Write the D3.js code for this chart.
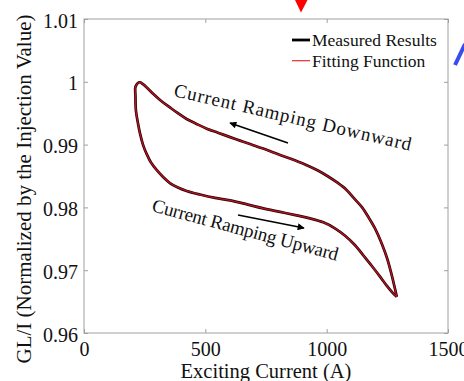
<!DOCTYPE html>
<html>
<head>
<meta charset="utf-8">
<script src="https://cdn.jsdelivr.net/npm/d3@7"></script>
<style>
  body { margin: 0; background: #fff; }
  svg { display: block; font-family: "Liberation Serif", "Times New Roman", serif; }
</style>
</head>
<body>
<svg id="chart" width="464" height="381"></svg>
<script>
// current ramping upward (lower branch), A and GL/I
const upCurrent = [224, 212, 212, 214, 222, 231, 243, 258, 276, 300, 326, 354, 387, 423, 478, 540, 602, 672, 739, 808, 876, 931, 986, 1034, 1076, 1117, 1154, 1187, 1220, 1249, 1273, 1289];
const upValue = [0.9999, 0.99921, 0.99778, 0.9954, 0.99349, 0.99175, 0.99, 0.98852, 0.98714, 0.98592, 0.98484, 0.98388, 0.98318, 0.98262, 0.98205, 0.98151, 0.98111, 0.98048, 0.97984, 0.97929, 0.97873, 0.97825, 0.97762, 0.97667, 0.97548, 0.97397, 0.97222, 0.97063, 0.96897, 0.96746, 0.96635, 0.96576];

// current ramping downward (upper branch)
const downCurrent = [1289, 1278, 1265, 1249, 1228, 1203, 1175, 1146, 1113, 1080, 1043, 1006, 964, 911, 849, 787, 738, 684, 643, 602, 552, 506, 462, 423, 387, 354, 317, 286, 260, 243, 231, 224];
const downValue = [0.96576, 0.96762, 0.96968, 0.9719, 0.97413, 0.97635, 0.97825, 0.98, 0.98143, 0.98286, 0.98397, 0.98492, 0.98587, 0.98683, 0.98778, 0.98865, 0.98937, 0.99008, 0.99063, 0.99119, 0.9919, 0.99254, 0.99333, 0.99408, 0.995, 0.99592, 0.99698, 0.99805, 0.99905, 0.99963, 0.99992, 0.9999];

const xTicks = [0, 500, 1000, 1500];
const yTicks = [0.96, 0.97, 0.98, 0.99, 1, 1.01];
const legendNames = ['Measured Results', 'Fitting Function'];

const svg = d3.select('#chart');
const plotLeft = 84, plotRight = 448, plotTop = 19, plotBottom = 333;

const x = d3.scaleLinear().domain([0, 1500]).range([plotLeft, plotRight]);
const y = d3.scaleLinear().domain([0.96, 1.01]).range([plotBottom, plotTop]);

const axisColor = '#a0a0a0';

// box
svg.append('rect')
  .attr('x', plotLeft).attr('y', plotTop)
  .attr('width', plotRight - plotLeft).attr('height', plotBottom - plotTop)
  .attr('fill', 'none').attr('stroke', axisColor).attr('stroke-width', 1);

const styleAxis = (g) => {
  g.select('.domain').remove();
  g.selectAll('line').attr('stroke', axisColor);
  g.selectAll('text').attr('fill', '#111').style('font-size', '20px')
    .style('font-family', '"Liberation Serif", serif');
};

svg.append('g').attr('transform', `translate(0,${plotBottom})`)
  .call(d3.axisBottom(x).tickValues(xTicks).tickFormat(d3.format('d')).tickSizeInner(-4).tickSizeOuter(0).tickPadding(9))
  .call(styleAxis);
svg.append('g').attr('transform', `translate(0,${plotTop})`)
  .call(d3.axisTop(x).tickValues(xTicks).tickFormat('').tickSizeInner(-4).tickSizeOuter(0))
  .call(styleAxis);
svg.append('g').attr('transform', `translate(${plotLeft},0)`)
  .call(d3.axisLeft(y).tickValues(yTicks).tickFormat(d => String(+d.toFixed(2))).tickSizeInner(-4).tickSizeOuter(0).tickPadding(6))
  .call(styleAxis)
  .selectAll('text').attr('dy', '0.4em');
svg.append('g').attr('transform', `translate(${plotRight},0)`)
  .call(d3.axisRight(y).tickValues(yTicks).tickFormat('').tickSizeInner(-4).tickSizeOuter(0))
  .call(styleAxis);

// axis labels
svg.append('text')
  .attr('x', (plotLeft + plotRight) / 2).attr('y', 378)
  .attr('text-anchor', 'middle').style('font-size', '20.5px').attr('fill', '#111')
  .text('Exciting Current (A)');
svg.append('text')
  .attr('transform', 'translate(31,189) rotate(-90)')
  .attr('text-anchor', 'middle').style('font-size', '21px').attr('fill', '#111')
  .text('GL/I (Normalized by the Injection Value)');

// curves
const upData = upCurrent.map((c, i) => [c, upValue[i]]);
const downData = downCurrent.map((c, i) => [c, downValue[i]]);
const line = d3.line().x(d => x(d[0])).y(d => y(d[1])).curve(d3.curveCatmullRom.alpha(0.5));

[upData, downData].forEach(d => {
  svg.append('path').attr('d', line(d)).attr('fill', 'none')
    .attr('stroke', '#1a0505').attr('stroke-width', 2.7).attr('stroke-linejoin', 'round');
});
[upData, downData].forEach(d => {
  svg.append('path').attr('d', line(d)).attr('fill', 'none')
    .attr('stroke', '#c01020').attr('stroke-width', 1.3).attr('stroke-linejoin', 'round');
});

// legend
const legend = svg.append('g');
legendNames.forEach((name, i) => {
  const ly = 40 + i * 20.7;
  legend.append('line')
    .attr('x1', 292).attr('x2', 310).attr('y1', ly).attr('y2', ly)
    .attr('stroke', i === 0 ? '#000' : '#e03030').attr('stroke-width', i === 0 ? 2.8 : 1.2);
  legend.append('text')
    .attr('x', 312).attr('y', ly + 6)
    .style('font-size', '17.5px').attr('fill', '#111')
    .text(name);
});

// annotations
const defs = svg.append('defs');
defs.append('marker')
  .attr('id', 'head').attr('viewBox', '0 0 10 10')
  .attr('refX', 9).attr('refY', 5)
  .attr('markerWidth', 10).attr('markerHeight', 7)
  .attr('markerUnits', 'userSpaceOnUse')
  .attr('orient', 'auto')
  .append('path').attr('d', 'M0,0 L10,5 L0,10 Z').attr('fill', '#000');

svg.append('text')
  .attr('transform', 'translate(173,96) rotate(13)')
  .style('font-size', '19px').attr('fill', '#111')
  .attr('textLength', 243).attr('lengthAdjust', 'spacing')
  .text('Current Ramping Downward');
svg.append('line')
  .attr('x1', 288).attr('y1', 143).attr('x2', 230).attr('y2', 123)
  .attr('stroke', '#000').attr('stroke-width', 1.6).attr('marker-end', 'url(#head)');

svg.append('text')
  .attr('transform', 'translate(151,211) rotate(15)')
  .style('font-size', '19px').attr('fill', '#111')
  .attr('textLength', 192).attr('lengthAdjust', 'spacing')
  .text('Current Ramping Upward');
svg.append('line')
  .attr('x1', 238).attr('y1', 215).attr('x2', 304).attr('y2', 228)
  .attr('stroke', '#000').attr('stroke-width', 1.6).attr('marker-end', 'url(#head)');

// cropped marks from the source figure
svg.append('path').attr('d', 'M295,0 L307.5,0 L301,12.5 Z').attr('fill', '#ff0000');
svg.append('line').attr('x1', 455).attr('y1', 65).attr('x2', 465).attr('y2', 44)
  .attr('stroke', '#3a4cf0').attr('stroke-width', 4);
</script>
</body>
</html>
